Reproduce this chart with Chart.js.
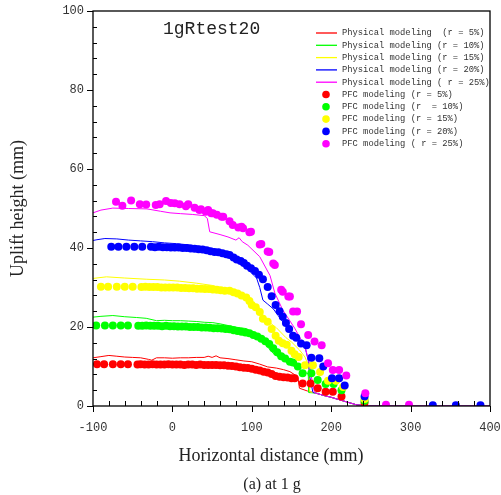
<!DOCTYPE html>
<html>
<head>
<meta charset="utf-8">
<script src="https://cdn.jsdelivr.net/npm/chart.js@4"></script>
<style>
  html, body { margin: 0; padding: 0; background: #fff; }
  #wrap { width: 501px; height: 495px; }
</style>
</head>
<body>
<div id="wrap"><canvas id="upliftChart" width="501" height="495"></canvas></div>
<script>
// physical modeling lines (x in mm, uplift in mm)
const phys5X = [-100,-90,-80,-70,-60,-50,-40,-30,-26,-20,-10,0,10,20,30,40,45,50,55,60,70,80,90,100,110,120,131,140,148,158,160,170,180,190,200,210,220,232,248,270,300,330,360,400];
const phys5Y = [12.2,12.5,12.8,12.6,12.4,12.3,12.2,11.8,11.6,12.2,12.2,12.1,12.2,12.2,12.3,12.3,12.6,12.3,12.7,12.2,12.0,11.7,11.4,11.2,10.6,9.9,9.6,9.2,8.7,7.4,4.5,3.8,3.3,2.7,2.2,1.6,1.0,0.3,0,0,0,0,0,0];
const phys10X = [-100,-90,-75,-60,-45,-33,-20,-10,0,10,20,30,40,51,60,72,82,93,101,110,118,127,135,144,152,160,167,171,172,180,190,200,210,220,232,248,270,300,330,360,400];
const phys10Y = [22.5,22.7,22.9,22.6,22.4,22.2,21.6,21.7,21.6,21.6,21.5,21.4,21.2,21.1,20.8,20.3,19.9,19.6,18.7,17.2,15.4,13.3,12.2,11.0,10.2,9.2,8.5,8.2,3.4,3.3,2.7,2.2,1.6,1.0,0.3,0,0,0,0,0,0];
const phys15X = [-100,-83,-60,-33,-10,9,30,51,70,82,93,101,112,122,131,143,150,160,167,172,173,180,190,200,210,220,232,248,270,300,330,360,400];
const phys15Y = [32.3,32.7,32.4,32.1,31.9,31.6,31.1,30.5,29.3,28.4,27.2,25.8,23.6,21.2,19.8,17.3,16.2,14.2,12.4,9.8,3.6,3.3,2.7,2.2,1.6,1.0,0.3,0,0,0,0,0,0];
const phys20X = [-100,-95,-85,-70,-55,-40,-25,-10,5,20,35,51,68,76,89,97,106,110,114,120,127,139,150,156,162,167,171,173,177,180,190,200,210,220,232,248,270,300,330,360,400];
const phys20Y = [41.9,42.1,42.4,42.3,42.0,41.8,41.6,41.3,41.1,40.8,40.4,39.8,38.3,37.8,35.6,34.2,32.4,30.0,26.8,25.8,24.6,21.3,18.9,17.5,16.0,15.0,11.6,7.4,3.4,3.3,2.7,2.2,1.6,1.0,0.3,0,0,0,0,0,0];
const phys25X = [-100,-90,-75,-55,-32,-15,-3,10,25,40,44,47,60,70,80,84,88,95,110,123,129,139,154,167,173,175,179,180,190,200,210,220,232,248,270,300,330,360,400];
const phys25Y = [48.9,49.6,50.1,50.0,49.9,49.3,48.9,48.7,48.5,48.2,47.5,44.1,43.4,42.8,42.0,42.6,41.6,40.7,37.8,33.0,28.6,24.3,19.7,15.0,10.4,7.4,3.4,3.3,2.7,2.2,1.6,1.0,0.3,0,0,0,0,0,0];

// PFC modeling points
const pfc5X = [-95,-86,-75,-65,-56,-44,-40,-35,-30,-25,-20,-15,-10,-5,0,5,10,15,20,25,30,35,40,45,50,55,60,65,70,75,80,85,90,95,100,105,110,115,120,125,130,135,140,145,150,154,164,174,183,193,202,213,242];
const pfc5Y = [10.6,10.6,10.6,10.6,10.6,10.5,10.6,10.5,10.5,10.6,10.5,10.5,10.5,10.6,10.5,10.5,10.5,10.4,10.5,10.5,10.4,10.5,10.4,10.4,10.4,10.4,10.3,10.3,10.2,10.1,10.0,9.8,9.7,9.6,9.4,9.2,9.0,8.7,8.5,8.1,7.6,7.4,7.3,7.2,7.0,7.0,5.7,5.7,4.5,3.6,3.6,2.4,0.8];
const pfc10X = [-96,-85,-75,-65,-56,-43,-38,-33,-28,-23,-18,-13,-8,-3,2,7,12,17,22,27,32,37,42,47,52,57,62,67,72,77,82,87,92,97,102,107,112,117,122,127,132,137,142,148,152,158,164,175,183,193,203,213,242];
const pfc10Y = [20.4,20.4,20.4,20.4,20.4,20.3,20.3,20.4,20.3,20.3,20.3,20.2,20.3,20.2,20.2,20.1,20.1,20.1,20.0,20.0,20.0,19.9,19.9,19.8,19.7,19.7,19.6,19.5,19.4,19.2,19.0,18.8,18.6,18.4,18.0,17.6,17.0,16.4,15.7,14.6,13.6,12.6,12.0,11.2,11.0,10.0,8.3,8.3,6.6,5.6,5.6,4.0,1.3];
const pfc15X = [-90,-81,-70,-60,-50,-39,-34,-29,-24,-19,-14,-9,-4,1,6,11,16,21,26,31,36,41,46,51,56,61,66,72,77,82,87,93,97,100,105,110,114,120,125,130,134,139,144,150,154,159,167,177,186,196,206,215,242];
const pfc15Y = [30.2,30.2,30.2,30.2,30.2,30.1,30.2,30.1,30.1,30.1,30.0,30.0,30.0,30.0,30.0,29.9,29.9,29.8,29.8,29.7,29.7,29.6,29.6,29.5,29.4,29.3,29.2,29.2,28.8,28.5,28.0,27.5,26.6,25.6,25.0,23.8,22.1,21.3,19.5,17.8,16.5,15.9,15.5,14.0,13.1,12.4,10.3,10.3,8.6,6.4,6.4,4.8,1.8];
const pfc20X = [-77,-68,-58,-48,-38,-27,-22,-17,-12,-7,-2,3,8,13,18,23,28,33,38,43,48,53,58,63,68,72,77,81,86,90,94,99,104,109,114,120,125,130,135,139,143,147,152,156,162,169,175,185,190,201,210,217,242,328,357,388];
const pfc20Y = [40.3,40.3,40.3,40.3,40.3,40.3,40.2,40.3,40.2,40.2,40.1,40.1,40.1,40.0,40.0,39.9,39.8,39.7,39.6,39.4,39.2,39.0,38.9,38.7,38.4,38.2,37.6,37.1,36.7,36.2,35.5,34.9,34.2,33.2,32.1,30.1,27.8,25.6,24.0,22.6,21.0,19.5,17.8,17.3,15.8,15.4,12.2,12.1,10.0,7.0,7.0,5.2,2.4,0.2,0.2,0.2];
const pfc25X = [-71,-63,-52,-41,-33,-21,-16,-8,-2,3,9,17,20,28,34,36,42,45,49,51,56,62,64,72,76,83,87,89,97,99,110,112,120,122,127,129,137,139,146,148,152,157,162,171,179,188,196,202,210,219,243,269,298];
const pfc25Y = [51.7,50.7,52.0,51.1,51.0,50.9,51.1,51.9,51.4,51.3,51.1,50.6,51.1,50.2,49.6,49.8,49.2,49.6,48.8,48.8,48.4,47.9,47.9,46.8,45.8,45.2,45.4,45.0,44.0,44.1,40.9,41.0,39.1,39.0,36.1,35.7,29.4,28.9,27.7,27.7,23.9,23.9,20.7,18.0,16.3,15.4,10.8,9.1,9.1,7.7,3.2,0.3,0.3];

const xTicks = [-100, 0, 100, 200, 300, 400];
const yTicks = [0, 20, 40, 60, 80, 100];

const colors = ['#ff0000', '#00ff00', '#ffff00', '#0000ff', '#ff00ff'];

function toPoints(xs, ys) {
    return xs.map((x, i) => ({ x: x, y: ys[i] }));
}

function lineSet(label, xs, ys, color, order) {
    return {
        type: 'line', label: label, data: toPoints(xs, ys),
        borderColor: color, borderWidth: 1, pointRadius: 0,
        fill: false, tension: 0, order: order, kind: 'line'
    };
}

function dotSet(label, xs, ys, color, order) {
    return {
        type: 'scatter', label: label, data: toPoints(xs, ys),
        backgroundColor: color, borderWidth: 0, pointRadius: 4,
        showLine: false, order: order, kind: 'dot'
    };
}

// tick marks, frame, label, legend and captions
const decorPlugin = {
    id: 'decor',
    afterDraw(chart) {
        const ctx = chart.ctx;
        const a = chart.chartArea;
        const xs = chart.scales.x;
        const ys = chart.scales.y;
        ctx.save();
        ctx.strokeStyle = '#000';
        ctx.lineWidth = 1.3;
        ctx.strokeRect(a.left, a.top, a.right - a.left, a.bottom - a.top);

        ctx.lineWidth = 1;
        ctx.beginPath();
        for (let v = 0; v <= 100; v += 4) {
            const py = Math.round(ys.getPixelForValue(v)) + 0.5;
            if (v % 20 === 0) {
                ctx.moveTo(a.left - 6, py); ctx.lineTo(a.left, py);
            } else {
                ctx.moveTo(a.left, py); ctx.lineTo(a.left + 4, py);
            }
        }
        for (let v = -100; v <= 400; v += 20) {
            const px = Math.round(xs.getPixelForValue(v)) + 0.5;
            if (v % 100 === 0) {
                ctx.moveTo(px, a.bottom); ctx.lineTo(px, a.bottom + 6);
            } else {
                ctx.moveTo(px, a.bottom); ctx.lineTo(px, a.bottom - 5);
            }
        }
        ctx.stroke();

        ctx.fillStyle = '#222';
        ctx.font = '18px "Liberation Mono", monospace';
        ctx.textBaseline = 'middle';
        ctx.textAlign = 'left';
        ctx.fillText('1gRtest20', 163, 29);

        // legend
        ctx.font = '8.8px "Liberation Mono", monospace';
        chart.data.datasets.forEach((ds, i) => {
            const y = 33 + i * 12.3;
            if (ds.kind === 'line') {
                ctx.strokeStyle = ds.borderColor;
                ctx.lineWidth = 1.3;
                ctx.beginPath();
                ctx.moveTo(316, y); ctx.lineTo(337, y);
                ctx.stroke();
            } else {
                ctx.fillStyle = ds.backgroundColor;
                ctx.beginPath();
                ctx.arc(326, y, 3.8, 0, Math.PI * 2);
                ctx.fill();
            }
            ctx.fillStyle = '#333';
            ctx.fillText(ds.label, 342, y);
        });

        ctx.fillStyle = '#222';
        ctx.textAlign = 'center';
        ctx.font = '18px "Liberation Serif", serif';
        ctx.fillText('Horizontal distance (mm)', 271, 456);
        ctx.font = '16px "Liberation Serif", serif';
        ctx.fillText('(a) at 1 g', 272, 485);
        ctx.restore();
    }
};

new Chart(document.getElementById('upliftChart'), {
    data: {
        datasets: [
            lineSet('Physical modeling  (r = 5%)', phys5X, phys5Y, colors[0], 14),
            lineSet('Physical modeling (r = 10%)', phys10X, phys10Y, colors[1], 13),
            lineSet('Physical modeling (r = 15%)', phys15X, phys15Y, colors[2], 12),
            lineSet('Physical modeling (r = 20%)', phys20X, phys20Y, colors[3], 11),
            lineSet('Physical modeling ( r = 25%)', phys25X, phys25Y, colors[4], 10),
            dotSet('PFC modeling (r = 5%)', pfc5X, pfc5Y, colors[0], 4),
            dotSet('PFC modeling (r  = 10%)', pfc10X, pfc10Y, colors[1], 3),
            dotSet('PFC modeling (r = 15%)', pfc15X, pfc15Y, colors[2], 2),
            dotSet('PFC modeling (r = 20%)', pfc20X, pfc20Y, colors[3], 1),
            dotSet('PFC modeling ( r = 25%)', pfc25X, pfc25Y, colors[4], 0)
        ]
    },
    options: {
        responsive: false,
        animation: false,
        events: [],
        layout: { padding: { top: 11, right: 11, left: 0, bottom: 0 } },
        plugins: { legend: { display: false }, tooltip: { enabled: false } },
        scales: {
            x: {
                type: 'linear', min: -100, max: 400,
                afterFit: s => { s.height = 89; s.paddingLeft = 0; s.paddingRight = 0; },
                afterBuildTicks: s => { s.ticks = xTicks.map(v => ({ value: v })); },
                grid: { display: false, drawTicks: false },
                border: { display: false },
                ticks: {
                    autoSkip: false, maxRotation: 0, padding: 15,
                    color: '#333', font: { family: '"Liberation Mono", monospace', size: 12 }
                },
                title: { display: false }
            },
            y: {
                type: 'linear', min: 0, max: 100,
                afterFit: s => { s.width = 93; s.paddingTop = 0; s.paddingBottom = 0; },
                afterBuildTicks: s => { s.ticks = yTicks.map(v => ({ value: v })); },
                grid: { display: false, drawTicks: false },
                border: { display: false },
                ticks: {
                    autoSkip: false, padding: 9,
                    color: '#333', font: { family: '"Liberation Mono", monospace', size: 12 }
                },
                title: {
                    display: true, text: 'Uplift height (mm)', color: '#222',
                    font: { family: '"Liberation Serif", serif', size: 18 },
                    padding: { top: 7, bottom: 0 }
                }
            }
        }
    },
    plugins: [decorPlugin]
});
</script>
</body>
</html>
